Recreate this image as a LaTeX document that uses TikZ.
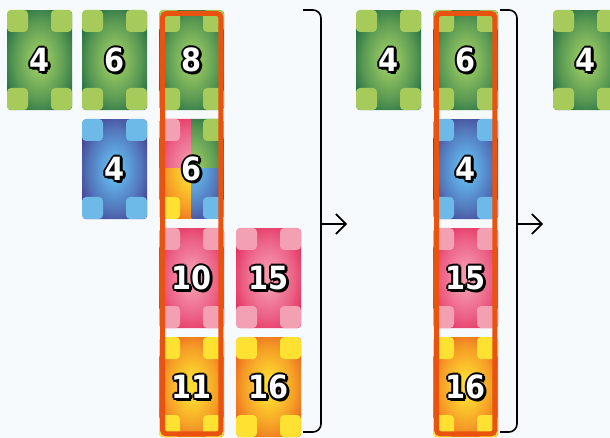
\documentclass[tikz,border=0pt]{standalone}
\usepackage{fontspec}
\newfontfamily\numfont{DejaVu Sans Condensed}
\usetikzlibrary{arrows.meta,fit}
\definecolor{bg}{HTML}{F7FAFD}
\definecolor{gL}{HTML}{A6CB5B}\definecolor{gC}{HTML}{96C862}\definecolor{gD}{HTML}{0D5E3F}
\definecolor{bL}{HTML}{6DB9E8}\definecolor{bC}{HTML}{62B6EC}\definecolor{bD}{HTML}{3F2A80}
\definecolor{pL}{HTML}{F3A0B2}\definecolor{pC}{HTML}{F496AC}\definecolor{pD}{HTML}{E11A50}
\definecolor{yL}{HTML}{FFE132}\definecolor{yC}{HTML}{FFDA30}\definecolor{yD}{HTML}{E8511A}
\definecolor{selc}{HTML}{E9530F}
\pgfdeclareradialshading{shg}{\pgfpoint{0bp}{0bp}}{color(0bp)=(gC); color(5bp)=(gC); color(20bp)=(gC!55!gD); color(34bp)=(gD); color(50bp)=(gD)}
\pgfdeclareradialshading{shb}{\pgfpoint{0bp}{0bp}}{color(0bp)=(bC); color(5bp)=(bC); color(20bp)=(bC!55!bD); color(34bp)=(bD); color(50bp)=(bD)}
\pgfdeclareradialshading{shp}{\pgfpoint{0bp}{0bp}}{color(0bp)=(pC); color(5bp)=(pC); color(20bp)=(pC!55!pD); color(34bp)=(pD); color(50bp)=(pD)}
\pgfdeclareradialshading{shy}{\pgfpoint{0bp}{0bp}}{color(0bp)=(yC); color(5bp)=(yC); color(20bp)=(yC!55!yD); color(34bp)=(yD); color(50bp)=(yD)}
% corners of a card whose north-west corner is at (#2,#3), colour type #1
\newcommand\cardcorners[3]{%
  \fill[#1L,corner] (#2,#3) rectangle ++(21,22);
  \fill[#1L,corner] (#2+44,#3) rectangle ++(21,22);
  \fill[#1L,corner] (#2,#3+78) rectangle ++(21,22);
  \fill[#1L,corner] (#2+44,#3+78) rectangle ++(21,22);}
% outline + white number on card named #1
\newcommand\cardnum[2]{%
  \foreach \a in {0,45,...,315}{
    \node[numtxt,text=black] at ([shift={(\a:2pt)}]#1.center) {#2};}
  \foreach \a in {-45,0}{
    \node[numtxt,text=black] at ([shift={(\a:2pt)},shift={(0.6pt,-1.1pt)}]#1.center) {#2};}
  \node[numtxt,text=white] (#1n) at (#1.center) {#2};}
% plain card: name, type, x, y, number
\newcommand\plaincard[5]{%
  \node[cardbase,shading=sh#2] (#1) at (#3,#4) {};
  \cardcorners{#2}{#3}{#4}
  \cardnum{#1}{#5}}
\tikzset{
  numtxt/.style={anchor=center,inner sep=0pt,font=\numfont\bfseries\fontsize{32}{32}\selectfont},
  cardbase/.style={shade,minimum width=65pt,minimum height=100pt,inner sep=0pt,anchor=north west,rounded corners=4pt},
  corner/.style={rounded corners=4pt},
  sel/.style={draw=selc,line width=5pt,rounded corners=4pt,inner sep=-3.5pt},
  brk/.style={draw=black,line width=1.6pt,rounded corners=8pt},
  arr/.style={draw=black,line width=1.6pt,-{Straight Barb[length=10pt,width=20pt]}}
}
\begin{document}
\begin{tikzpicture}[x=1pt,y=-1pt]
\fill[bg] (0,0) rectangle (610,438);
\useasboundingbox (0,0) rectangle (610,438);
% group 1
\plaincard{a1}{g}{7}{10}{4}
\plaincard{a2}{g}{82}{10}{6}
\plaincard{a3}{g}{159}{10}{8}
\plaincard{b2}{b}{82}{119}{4}
% mixed card
\node[cardbase,shading=shg,shade=false,fill=none] (b3) at (159,119) {};
\begin{scope}
  \clip[rounded corners=4pt] (159,119) rectangle ++(65,100);
  \begin{scope}\clip (159,119) rectangle (191.5,169);
    \shade[shading=shp] (159,119) rectangle ++(65,100); \cardcorners{p}{159}{119}\end{scope}
  \begin{scope}\clip (191.5,119) rectangle (224,169);
    \shade[shading=shg] (159,119) rectangle ++(65,100); \cardcorners{g}{159}{119}\end{scope}
  \begin{scope}\clip (159,169) rectangle (191.5,219);
    \shade[shading=shy] (159,119) rectangle ++(65,100); \cardcorners{y}{159}{119}\end{scope}
  \begin{scope}\clip (191.5,169) rectangle (224,219);
    \shade[shading=shb] (159,119) rectangle ++(65,100); \cardcorners{b}{159}{119}\end{scope}
\end{scope}
\cardnum{b3}{6}
\plaincard{c3}{p}{159}{228}{10}
\plaincard{c4}{p}{236}{228}{15}
\plaincard{d3}{y}{159}{337}{11}
\plaincard{d4}{y}{236}{337}{16}
\node[sel,fit=(a3)(d3)] (s1) {};
% bracket 1
\coordinate (k1a) at (303,10);
\coordinate (k1b) at (321,10);
\coordinate (k1c) at (321,432);
\coordinate (k1d) at (303,432);
\coordinate (k1m) at (321,224);
\coordinate (k1e) at (347,224);
\draw[brk] (k1a) -- (k1b) -- (k1c) -- (k1d);
\draw[arr] (k1m) -- (k1e);
% group 2
\plaincard{e1}{g}{356}{10}{4}
\plaincard{e2}{g}{433}{10}{6}
\plaincard{f2}{b}{433}{119}{4}
\plaincard{g2}{p}{433}{228}{15}
\plaincard{h2}{y}{433}{337}{16}
\node[sel,fit=(e2)(h2)] (s2) {};
% bracket 2
\coordinate (k2a) at (500,10);
\coordinate (k2b) at (517,10);
\coordinate (k2c) at (517,432);
\coordinate (k2d) at (500,432);
\coordinate (k2m) at (517,224);
\coordinate (k2e) at (543,224);
\draw[brk] (k2a) -- (k2b) -- (k2c) -- (k2d);
\draw[arr] (k2m) -- (k2e);
% group 3
\plaincard{i1}{g}{553}{10}{4}
\end{tikzpicture}
\end{document}
